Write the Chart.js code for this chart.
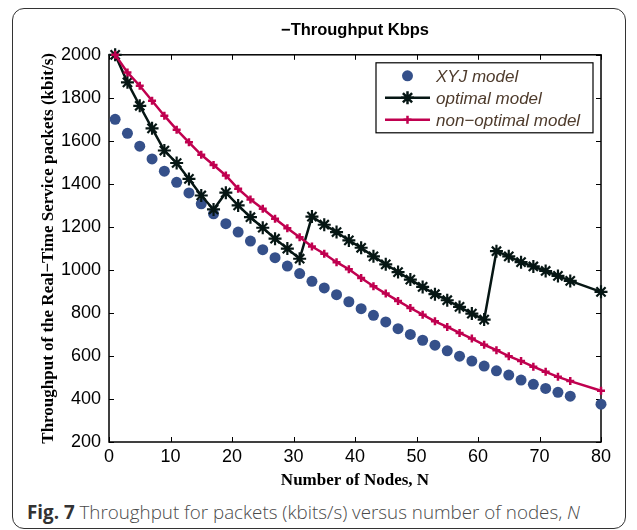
<!DOCTYPE html>
<html>
<head>
<meta charset="utf-8">
<script src="https://cdn.jsdelivr.net/npm/chart.js"></script>
<style>
  body { margin: 0; background: #fff; }
  #page { position: relative; width: 637px; height: 530px; overflow: hidden; }
  #card { position: absolute; left: 12px; top: 8px; width: 614px; height: 521px; box-sizing: border-box;
          border: 1.5px solid #333; border-radius: 12px; }
  #chartBox { position: absolute; left: 0; top: 0; width: 637px; height: 492px; }
  #caption { position: absolute; left: 27px; top: 499px; font: 300 18.8px "Open Sans", sans-serif; color: #4a4a4a; white-space: nowrap; }
  #caption b { color: #333; font-weight: bold; }
</style>
</head>
<body>
<div id="page">
  <div id="card"></div>
  <div id="chartBox"><canvas id="throughputChart"></canvas></div>
  <div id="caption"><b>Fig. 7</b> Throughput for packets (kbits/s) versus number of nodes, <i>N</i></div>
</div>
<script>
  // values
  const nodes = [1, 3, 5, 7, 9, 11, 13, 15, 17, 19, 21, 23, 25, 27, 29, 31, 33, 35, 37, 39,
                 41, 43, 45, 47, 49, 51, 53, 55, 57, 59, 61, 63, 65, 67, 69, 71, 73, 75, 80];
  const xyjModel = [1700, 1635, 1575, 1516, 1459, 1407, 1358, 1307, 1261, 1215, 1176, 1134, 1094,
                    1057, 1018, 983, 947, 916, 885, 852, 820, 789, 758, 727, 700, 673, 650, 624,
                    599, 576, 553, 531, 511, 488, 468, 449, 431, 413, 376];
  const optimalModel = [2000, 1872, 1763, 1658, 1555, 1497, 1423, 1346, 1281, 1359, 1300, 1245,
                        1196, 1145, 1099, 1052, 1248, 1210, 1176, 1137, 1103, 1063, 1026, 990, 955,
                        921, 887, 859, 828, 797, 769, 1087, 1063, 1036, 1016, 995, 972, 949, 898];
  const nonOptimalModel = [2000, 1918, 1856, 1786, 1717, 1652, 1593, 1535, 1488, 1439, 1377, 1327,
                           1284, 1238, 1194, 1152, 1109, 1075, 1036, 1003, 962, 924, 890, 856, 823,
                           792, 761, 735, 707, 681, 652, 627, 599, 576, 550, 526, 503, 483, 438];
  const xTicks = [0, 10, 20, 30, 40, 50, 60, 70, 80];
  const yTicks = [200, 400, 600, 800, 1000, 1200, 1400, 1600, 1800, 2000];
  const seriesLabels = ["XYJ model", "optimal model", "non\u2212optimal model"];

  const toPoints = (ys) => nodes.map((n, i) => ({ x: n, y: ys[i] }));
  const sans = "'Liberation Sans', Arial, Helvetica, sans-serif";
  const serif = "'Liberation Serif', 'Times New Roman', serif";

  // MATLAB-like box with inward ticks, and the legend inside the axes
  const framePlugin = {
    id: "frame",
    beforeDatasetsDraw(chart) {
      const { ctx, chartArea: a, scales } = chart;
      ctx.save();
      ctx.strokeStyle = "#000";
      ctx.lineWidth = 1.5;
      ctx.strokeRect(a.left, a.top, a.right - a.left, a.bottom - a.top);
      ctx.lineWidth = 1;
      ctx.beginPath();
      xTicks.forEach((t) => {
        const px = Math.round(scales.x.getPixelForValue(t)) + 0.5;
        ctx.moveTo(px, a.bottom); ctx.lineTo(px, a.bottom - 5);
        ctx.moveTo(px, a.top); ctx.lineTo(px, a.top + 5);
      });
      yTicks.forEach((t) => {
        const py = Math.round(scales.y.getPixelForValue(t)) + 0.5;
        ctx.moveTo(a.left, py); ctx.lineTo(a.left + 5, py);
        ctx.moveTo(a.right, py); ctx.lineTo(a.right - 5, py);
      });
      ctx.stroke();
      ctx.restore();
    },
    afterDatasetsDraw(chart) {
      const { ctx, chartArea: a } = chart;
      const w = 217, h = 70;
      const bx = a.right - 8 - w, by = a.top + 8;
      ctx.save();
      ctx.fillStyle = "#fff";
      ctx.fillRect(bx, by, w, h);
      ctx.strokeStyle = "#000";
      ctx.lineWidth = 1.2;
      ctx.strokeRect(bx, by, w, h);
      const rows = [by + 13, by + 35, by + 57];
      chart.data.datasets.forEach((ds, i) => {
        const y = rows[i];
        const lx0 = bx + 9, lx1 = bx + 54, mx = (lx0 + lx1) / 2;
        if (ds.showLine !== false) {
          ctx.strokeStyle = ds.borderColor;
          ctx.lineWidth = ds.borderWidth;
          ctx.beginPath(); ctx.moveTo(lx0, y); ctx.lineTo(lx1, y); ctx.stroke();
        }
        ctx.fillStyle = ds.pointBackgroundColor;
        ctx.strokeStyle = ds.pointBorderColor;
        Chart.helpers.drawPoint(ctx, {
          pointStyle: ds.pointStyle, radius: ds.pointRadius,
          borderWidth: ds.pointBorderWidth, rotation: 0
        }, mx, y);
        ctx.fillStyle = "#4e3b2c";
        ctx.font = "italic 17px " + sans;
        ctx.textBaseline = "middle";
        ctx.textAlign = "left";
        ctx.fillText(ds.label, bx + 60, y + 1);
      });
      ctx.restore();
    }
  };

  new Chart(document.getElementById("throughputChart"), {
    type: "line",
    data: {
      datasets: [
        {
          label: seriesLabels[0],
          data: toPoints(xyjModel),
          showLine: false,
          pointStyle: "circle",
          pointRadius: 5.5,
          pointBorderWidth: 0,
          pointBackgroundColor: "#35508a",
          pointBorderColor: "#35508a",
          borderColor: "#35508a",
          order: 3,
          clip: false
        },
        {
          label: seriesLabels[1],
          data: toPoints(optimalModel),
          borderColor: "#061614",
          borderWidth: 2.5,
          pointStyle: "star",
          pointRadius: 6.5,
          pointBorderWidth: 2.2,
          pointBackgroundColor: "#061614",
          pointBorderColor: "#061614",
          order: 2,
          clip: false
        },
        {
          label: seriesLabels[2],
          data: toPoints(nonOptimalModel),
          borderColor: "#c0004f",
          borderWidth: 2.5,
          pointStyle: "cross",
          pointRadius: 4,
          pointBorderWidth: 2.5,
          pointBackgroundColor: "#c0004f",
          pointBorderColor: "#c0004f",
          order: 1,
          clip: false
        }
      ]
    },
    options: {
      responsive: true,
      maintainAspectRatio: false,
      animation: false,
      layout: { padding: { left: 0, right: 36, top: 0, bottom: 0 } },
      plugins: {
        legend: { display: false },
        tooltip: { enabled: false },
        title: {
          display: true,
          text: "\u2212Throughput Kbps",
          fullSize: false,
          color: "#000",
          font: { family: sans, size: 16.5, weight: "bold" },
          padding: { top: 21, bottom: 14 }
        }
      },
      scales: {
        x: {
          type: "linear",
          min: 0,
          max: 80,
          afterBuildTicks: (s) => { s.ticks = xTicks.map((v) => ({ value: v })); },
          afterFit: (s) => { s.height = 50; },
          grid: { display: false, drawTicks: false },
          border: { display: false },
          ticks: { color: "#000", padding: 4, maxRotation: 0,
                   callback: (v) => String(v),
                   font: { family: sans, size: 18 } },
          title: {
            display: true,
            text: "Number of Nodes, N",
            color: "#000",
            font: { family: serif, size: 17, weight: "bold" },
            padding: { top: 0, bottom: 1 }
          }
        },
        y: {
          min: 200,
          max: 2000,
          afterBuildTicks: (s) => { s.ticks = yTicks.map((v) => ({ value: v })); },
          afterFit: (s) => { s.width = 109; },
          grid: { display: false, drawTicks: false },
          border: { display: false },
          ticks: { color: "#000", padding: 8,
                   callback: (v) => String(v),
                   font: { family: sans, size: 18 } },
          title: {
            display: true,
            text: "Throughput of the Real\u2212Time Service packets (kbit/s)",
            color: "#000",
            font: { family: serif, size: 17, weight: "bold" },
            padding: { top: 38, bottom: 0 }
          }
        }
      }
    },
    plugins: [framePlugin]
  });
</script>
</body>
</html>
